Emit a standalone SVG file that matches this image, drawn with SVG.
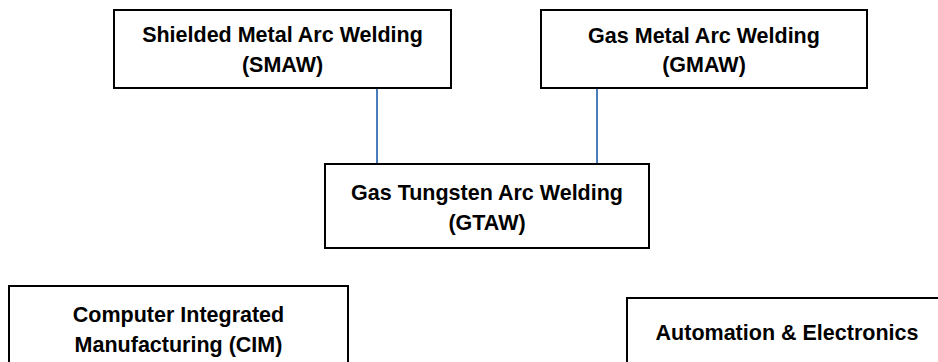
<svg xmlns="http://www.w3.org/2000/svg" width="938" height="362" viewBox="0 0 938 362">
<style>
.box{fill:#ffffff;stroke:#000000;stroke-width:2}
.lbl{font-family:"Liberation Sans",Arial,sans-serif;font-weight:bold;font-size:21.5px;fill:#000000;text-anchor:middle}
.conn{stroke:#4A7EBB;stroke-width:2;fill:none}
</style>
<rect width="938" height="362" fill="#ffffff"/>
<g id="connectors">
<line class="conn" x1="377" y1="88" x2="377" y2="164"/>
<line class="conn" x1="597" y1="88" x2="597" y2="164"/>
</g>
<g id="smaw">
<rect class="box" x="114" y="10" width="337" height="78"/>
<text class="lbl" x="282.5" y="42">Shielded Metal Arc Welding</text>
<text class="lbl" x="282.5" y="72">(SMAW)</text>
</g>
<g id="gmaw">
<rect class="box" x="541" y="10" width="326" height="78"/>
<text class="lbl" x="704" y="42.5">Gas Metal Arc Welding</text>
<text class="lbl" x="704" y="72">(GMAW)</text>
</g>
<g id="gtaw">
<rect class="box" x="325" y="164" width="324" height="84"/>
<text class="lbl" x="487" y="200">Gas Tungsten Arc Welding</text>
<text class="lbl" x="487" y="230">(GTAW)</text>
</g>
<g id="cim">
<rect class="box" x="9" y="286" width="339" height="100"/>
<text class="lbl" x="178.5" y="322">Computer Integrated</text>
<text class="lbl" x="178.5" y="352">Manufacturing (CIM)</text>
</g>
<g id="automation">
<rect class="box" x="627" y="298" width="330" height="90"/>
<text class="lbl" x="787" y="340">Automation &amp; Electronics</text>
</g>
</svg>
